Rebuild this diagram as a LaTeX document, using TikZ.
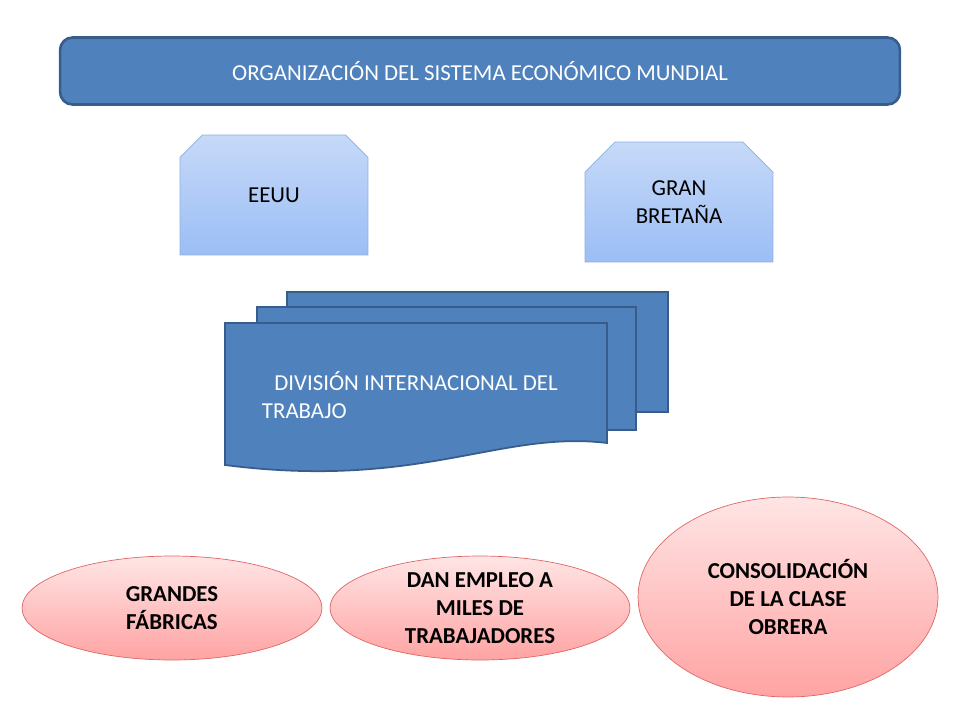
\documentclass[tikz,border=0pt]{standalone}
\usepackage{fontspec}
\setmainfont{Carlito}
\usetikzlibrary{shapes.misc,shapes.geometric,positioning}
\definecolor{boxblue}{HTML}{4F81BD}
\definecolor{boxedge}{HTML}{385D8A}
\definecolor{lightblue}{HTML}{C6D9F8}
\definecolor{midblue}{HTML}{9BBEF5}
\definecolor{edgeblue}{HTML}{8DB0E0}
\definecolor{pinktop}{HTML}{FFE5E5}
\definecolor{pinkbot}{HTML}{FFA3A3}
\definecolor{pinkedge}{HTML}{E06666}
\begin{document}
\begin{tikzpicture}[x=0.02cm,y=-0.02cm,
    font=\fontsize{13}{16}\selectfont,
    % Styles
    title/.style={% top banner
        rectangle, rounded corners=2.5mm, draw=boxedge, line width=1.5pt,
        fill=boxblue, text=white, minimum width=16.8cm, minimum height=1.34cm,
        },
    country/.style={% snipped boxes
        chamfered rectangle, chamfered rectangle corners={north west,north east},
        chamfered rectangle xsep=0.3cm, chamfered rectangle ysep=0.3cm,
        draw=edgeblue, top color=lightblue, bottom color=midblue,
        minimum width=3.76cm, minimum height=2.4cm, align=center, inner sep=0pt,
        },
    sheet/.style={% document stack
        draw=boxedge, line width=1pt, fill=boxblue,
        },
    effect/.style={% pink ellipses
        ellipse, draw=pinkedge, top color=pinktop, bottom color=pinkbot,
        align=center, font=\fontsize{13}{16}\selectfont\bfseries, inner sep=0pt,
        },
    ]
    \useasboundingbox (0,0) rectangle (960,720);

    \node [title] (org) at (480,71) {ORGANIZACIÓN DEL SISTEMA ECONÓMICO MUNDIAL};

    \node [country] (eeuu) at (274,195) {EEUU};
    \node [country] (gb) at (679,202) {GRAN\\BRETAÑA};

    % Stacked documents
    \draw [sheet] (287,292) rectangle (668,412);
    \draw [sheet] (257,307) rectangle (636,430);
    \draw [sheet] (225,323) -- (607,323) -- (607,443)
        .. controls (500,430) and (420,490) .. (225,465) -- cycle;
    \node [text=white, align=left] (div) at (416,395)
        {DIVISIÓN INTERNACIONAL DEL\\\hspace*{3.1cm}\llap{TRABAJO\hspace*{1.65cm}}};

    \node [effect, minimum width=6cm, minimum height=2.08cm] (fab) at (172,608) {GRANDES\\FÁBRICAS};
    \node [effect, minimum width=6cm, minimum height=2.08cm] (emp) at (480,608) {DAN EMPLEO A\\MILES DE\\TRABAJADORES};
    \node [effect, minimum width=6cm, minimum height=4cm] (obr) at (788,597) {CONSOLIDACIÓN\\DE LA CLASE\\OBRERA};
\end{tikzpicture}
\end{document}
